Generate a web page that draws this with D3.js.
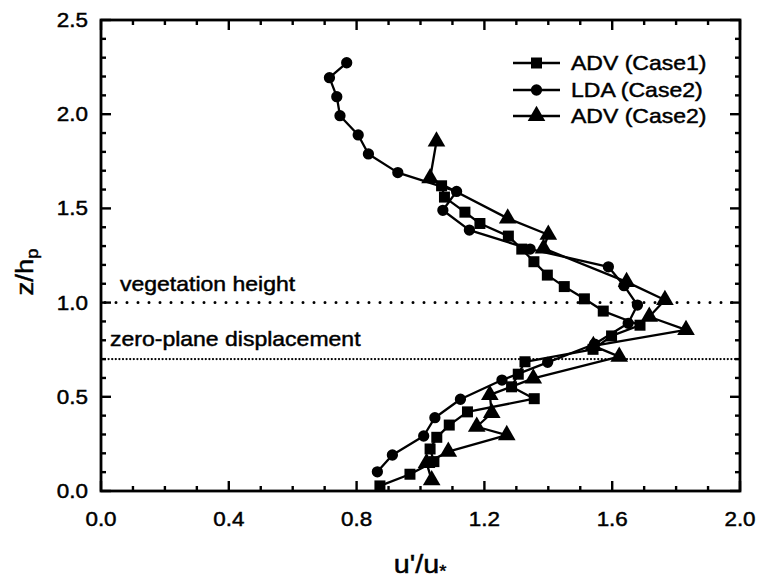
<!DOCTYPE html>
<html>
<head>
<meta charset="utf-8">
<script src="https://cdn.jsdelivr.net/npm/d3@7"></script>
<style>
  html, body { margin: 0; padding: 0; background: #fff; }
  svg { display: block; }
  text { font-family: "Liberation Sans", Arial, Helvetica, sans-serif; fill: #000; stroke: #000; stroke-width: 0.45px; }
</style>
</head>
<body>
<svg id="chart" width="760" height="580"></svg>
<script>
// Turbulence intensity profiles: u'/u* against normalised height z/h_p
const seriesNames = ["ADV (Case1)", "LDA (Case2)", "ADV (Case2)"];

// ADV, Case 1 (squares): [u'/u*, z/h_p]
const advCase1 = [
  [0.873, 0.027], [0.967, 0.089], [1.042, 0.156], [1.030, 0.223], [1.051, 0.285],
  [1.090, 0.350], [1.147, 0.420], [1.356, 0.490], [1.285, 0.553], [1.306, 0.620],
  [1.327, 0.686], [1.540, 0.752], [1.598, 0.823], [1.687, 0.880], [1.572, 0.955],
  [1.513, 1.020], [1.450, 1.085], [1.397, 1.146], [1.355, 1.217], [1.317, 1.284],
  [1.275, 1.353], [1.186, 1.420], [1.139, 1.480], [1.075, 1.560], [1.066, 1.620]
];

// LDA, Case 2 (circles)
const ldaCase2 = [
  [0.865, 0.102], [0.912, 0.191], [1.010, 0.292], [1.045, 0.389], [1.125, 0.487],
  [1.255, 0.589], [1.398, 0.683], [1.545, 0.780], [1.650, 0.890], [1.679, 0.987],
  [1.637, 1.090], [1.588, 1.190], [1.343, 1.284], [1.153, 1.385], [1.070, 1.490],
  [1.113, 1.590], [0.929, 1.690], [0.837, 1.789], [0.805, 1.890], [0.748, 1.992],
  [0.738, 2.093], [0.715, 2.194], [0.769, 2.273]
];

// ADV, Case 2 (triangles)
const advCase2 = [
  [1.035, 0.058], [1.019, 0.149], [1.087, 0.209], [1.270, 0.297], [1.176, 0.341],
  [1.223, 0.414], [1.217, 0.510], [1.353, 0.598], [1.622, 0.713], [1.541, 0.770],
  [1.831, 0.855], [1.716, 0.925], [1.765, 1.014], [1.645, 1.110], [1.385, 1.288],
  [1.400, 1.360], [1.273, 1.447], [1.030, 1.660], [1.050, 1.855]
];

// Reference levels
const refLevels = [1.0, 0.7];
const refLabels = ["vegetation height", "zero-plane displacement"];

// Axis ticks
const xTickValues = [0.0, 0.4, 0.8, 1.2, 1.6, 2.0];
const yTickValues = [0.0, 0.5, 1.0, 1.5, 2.0, 2.5];
const xMinorValues = d3.range(0, 21).map(i => i / 10);
const yMinorValues = d3.range(0, 26).map(i => i / 10);

const svg = d3.select("#chart");
const margin = { left: 101, right: 20, top: 20, bottom: 89 };
const W = 760, H = 580;
const x = d3.scaleLinear().domain([0, 2.0]).range([margin.left, W - margin.right]);
const y = d3.scaleLinear().domain([0, 2.5]).range([H - margin.bottom, margin.top]);

const stretch = 1.15;   // glyphs in this figure are set slightly wide

// Reference lines (dotted)
const refStyles = [
  { dash: "0 11", width: 3 },
  { dash: "0 3.6", width: 2.3 }
];
refLevels.forEach((lv, i) => {
  svg.append("line")
    .attr("x1", x(0) + 4).attr("x2", x(2.0) - 2)
    .attr("y1", y(lv)).attr("y2", y(lv))
    .attr("stroke", "#000")
    .attr("stroke-width", refStyles[i].width)
    .attr("stroke-linecap", "round")
    .attr("stroke-dasharray", refStyles[i].dash);
});
const refLabelPos = [{ dx: 19, dy: -12 }, { dx: 9, dy: -13 }];
refLevels.forEach((lv, i) => {
  svg.append("text")
    .attr("transform", `translate(${x(0) + refLabelPos[i].dx},${y(lv) + refLabelPos[i].dy}) scale(${stretch},1)`)
    .attr("font-size", 20)
    .text(refLabels[i]);
});

// Series
const line = d3.line().x(d => x(d[0])).y(d => y(d[1]));
const series = [
  { data: advCase1, symbol: d3.symbolSquare, size: 121 },
  { data: ldaCase2, symbol: d3.symbolCircle, size: 100 },
  { data: advCase2, symbol: d3.symbolTriangle, size: 135 }
];
series.forEach(s => {
  svg.append("path")
    .datum(s.data)
    .attr("d", line)
    .attr("fill", "none")
    .attr("stroke", "#000")
    .attr("stroke-width", 2.3)
    .attr("stroke-linejoin", "round");
  svg.append("g").selectAll("path")
    .data(s.data)
    .join("path")
    .attr("transform", d => `translate(${x(d[0])},${y(d[1])})`)
    .attr("d", d3.symbol().type(s.symbol).size(s.size))
    .attr("fill", "#000");
});

// Frame
svg.append("rect")
  .attr("x", x(0)).attr("y", y(2.5))
  .attr("width", x(2.0) - x(0)).attr("height", y(0) - y(2.5))
  .attr("fill", "none").attr("stroke", "#000").attr("stroke-width", 2.8);

// Inward ticks on all four sides
const majorLen = 10, minorLen = 5;
function isMajor(v, step) { return Math.abs(v / step - Math.round(v / step)) < 1e-6; }
function drawTicks(values, step, orient) {
  values.forEach(v => {
    const len = isMajor(v, step) ? majorLen : minorLen;
    let x1, y1, x2, y2;
    if (orient === "bottom") { x1 = x2 = x(v); y1 = y(0); y2 = y(0) - len; }
    if (orient === "top") { x1 = x2 = x(v); y1 = y(2.5); y2 = y(2.5) + len; }
    if (orient === "left") { y1 = y2 = y(v); x1 = x(0); x2 = x(0) + len; }
    if (orient === "right") { y1 = y2 = y(v); x1 = x(2.0); x2 = x(2.0) - len; }
    svg.append("line").attr("x1", x1).attr("y1", y1).attr("x2", x2).attr("y2", y2)
      .attr("stroke", "#000").attr("stroke-width", 2.4);
  });
}
drawTicks(xMinorValues, 0.4, "bottom");
drawTicks(xMinorValues, 0.4, "top");
drawTicks(yMinorValues, 0.5, "left");
drawTicks(yMinorValues, 0.5, "right");

// Tick labels
xTickValues.forEach(v => {
  svg.append("text")
    .attr("transform", `translate(${x(v)},${y(0) + 35}) scale(${stretch},1)`)
    .attr("text-anchor", "middle")
    .attr("font-size", 19.5)
    .text(d3.format(".1f")(v));
});
yTickValues.forEach(v => {
  svg.append("text")
    .attr("transform", `translate(${x(0) - 13},${y(v) + 7}) scale(${stretch},1)`)
    .attr("text-anchor", "end")
    .attr("font-size", 19.5)
    .text(d3.format(".1f")(v));
});

// Axis titles
const xTitle = svg.append("text")
  .attr("transform", `translate(420,573) scale(${stretch},1)`)
  .attr("text-anchor", "middle")
  .attr("font-size", 25);
xTitle.append("tspan").text("u'/u");
xTitle.append("tspan").attr("font-size", 16).attr("dy", 4).text("*");

const yTitle = svg.append("text")
  .attr("transform", `translate(33,272) rotate(-90) scale(${stretch},1)`)
  .attr("text-anchor", "middle")
  .attr("font-size", 24);
yTitle.append("tspan").text("z/h");
yTitle.append("tspan").attr("font-size", 16).attr("dy", 5).text("p");

// Legend
const legendY = [63, 90, 116];
series.forEach((s, i) => {
  const g = svg.append("g").attr("transform", `translate(513,${legendY[i]})`);
  g.append("line").attr("x1", 0).attr("x2", 47).attr("y1", 0).attr("y2", 0)
    .attr("stroke", "#000").attr("stroke-width", 2.3);
  g.append("path").attr("transform", "translate(23.5,0)")
    .attr("d", d3.symbol().type(s.symbol).size(s.size)).attr("fill", "#000");
  g.append("text")
    .attr("transform", `translate(58,7) scale(${stretch},1)`)
    .attr("font-size", 20)
    .text(seriesNames[i]);
});
</script>
</body>
</html>
